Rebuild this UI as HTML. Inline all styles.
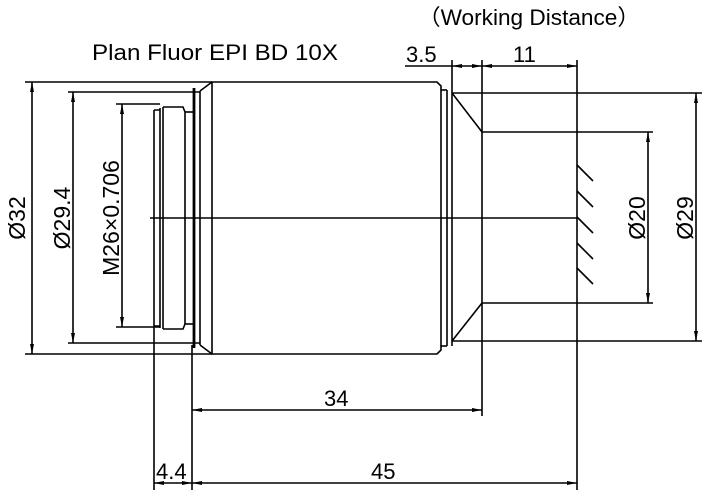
<!DOCTYPE html>
<html><head><meta charset="utf-8"><style>
html,body{margin:0;padding:0;background:#fff;}
svg{display:block;}
text{font-family:"Liberation Sans","Noto Sans CJK SC",sans-serif;fill:#000;}
</style></head><body>
<svg width="715" height="497" viewBox="0 0 715 497" xmlns="http://www.w3.org/2000/svg">
<defs>
<marker id="a" viewBox="0 0 10 4" refX="10" refY="2" markerWidth="10" markerHeight="4" orient="auto-start-reverse" markerUnits="userSpaceOnUse"><path d="M0,0 L10,2 L0,4z" fill="#000"/></marker>
</defs>
<g stroke="#000" stroke-width="1.6" fill="none">
<path d="M212,82 H437 L441,86 V350 L437,354 H212 Z"/>
<line x1="200" y1="91" x2="212" y2="82"/>
<line x1="200" y1="345" x2="212" y2="354"/>
<line x1="200" y1="91" x2="200" y2="345"/>
<line x1="194" y1="88" x2="194" y2="348" stroke-width="2.8"/>
<line x1="185" y1="112" x2="194" y2="112"/>
<line x1="185" y1="324" x2="194" y2="324"/>
<path d="M185,112 V324 M163,107 H183 L185,112 M163,329 H183 L185,324"/>
<line x1="163" y1="107" x2="163" y2="329"/>
<line x1="160" y1="108" x2="160" y2="328"/>
<path d="M154,110 H160 M154,326 H160"/>
<line x1="154" y1="110" x2="154" y2="490"/>
<line x1="192" y1="345" x2="192" y2="490"/>
<line x1="441" y1="90" x2="447" y2="90"/>
<line x1="441" y1="346" x2="447" y2="346"/>
<line x1="447" y1="90" x2="447" y2="346"/>
<line x1="452" y1="60" x2="452" y2="346"/>
<line x1="452" y1="93" x2="482" y2="132"/>
<line x1="452" y1="341" x2="482" y2="303"/>
<line x1="482" y1="60" x2="482" y2="416"/>
<line x1="577" y1="60" x2="577" y2="490"/>
<line x1="452" y1="93" x2="702" y2="93"/>
<line x1="452" y1="341" x2="702" y2="341"/>
<line x1="482" y1="132" x2="653" y2="132"/>
<line x1="482" y1="303" x2="653" y2="303"/>
<line x1="25" y1="82" x2="212" y2="82"/>
<line x1="25" y1="354" x2="212" y2="354"/>
<line x1="68" y1="92" x2="200" y2="92"/>
<line x1="68" y1="343" x2="200" y2="343"/>
<line x1="116" y1="104" x2="160" y2="104"/>
<line x1="116" y1="327" x2="160" y2="327"/>
<line x1="150" y1="218" x2="577" y2="218"/>
<path d="M577,165 l16,16 M577,191 l16,16 M577,217 l16,16 M577,243 l16,16 M577,268 l16,16"/>
<line x1="32" y1="82" x2="32" y2="354" marker-start="url(#a)" marker-end="url(#a)"/>
<line x1="73" y1="92" x2="73" y2="343" marker-start="url(#a)" marker-end="url(#a)"/>
<line x1="122" y1="104" x2="122" y2="327" marker-start="url(#a)" marker-end="url(#a)"/>
<line x1="648" y1="132" x2="648" y2="303" marker-start="url(#a)" marker-end="url(#a)"/>
<line x1="696" y1="93" x2="696" y2="341" marker-start="url(#a)" marker-end="url(#a)"/>
<line x1="405" y1="66" x2="452" y2="66"/>
<line x1="452" y1="66" x2="482" y2="66" marker-start="url(#a)" marker-end="url(#a)"/>
<line x1="482" y1="66" x2="577" y2="66" marker-start="url(#a)" marker-end="url(#a)"/>
<line x1="192" y1="410" x2="482" y2="410" marker-start="url(#a)" marker-end="url(#a)"/>
<line x1="192" y1="483" x2="577" y2="483" marker-start="url(#a)" marker-end="url(#a)"/>
<line x1="154" y1="483" x2="192" y2="483" marker-start="url(#a)" marker-end="url(#a)"/>
</g>
<g font-size="22">
<text x="92" y="60" textLength="246" lengthAdjust="spacingAndGlyphs">Plan Fluor EPI  BD 10X</text>
<text x="418" y="25" textLength="222" lengthAdjust="spacingAndGlyphs">（Working Distance）</text>
<text x="406" y="62">3.5</text>
<text x="513" y="62">11</text>
<text x="324" y="406">34</text>
<text x="371" y="479">45</text>
<text x="156" y="479">4.4</text>
<text transform="translate(25,218) rotate(-90)" text-anchor="middle" font-size="23">Ø32</text>
<text transform="translate(70,218) rotate(-90)" text-anchor="middle" font-size="23">Ø29.4</text>
<text transform="translate(119,218) rotate(-90)" text-anchor="middle" font-size="23">M26×0.706</text>
<text transform="translate(645,218) rotate(-90)" text-anchor="middle" font-size="23">Ø20</text>
<text transform="translate(693,218) rotate(-90)" text-anchor="middle" font-size="23">Ø29</text>
</g>
</svg>
</body></html>
